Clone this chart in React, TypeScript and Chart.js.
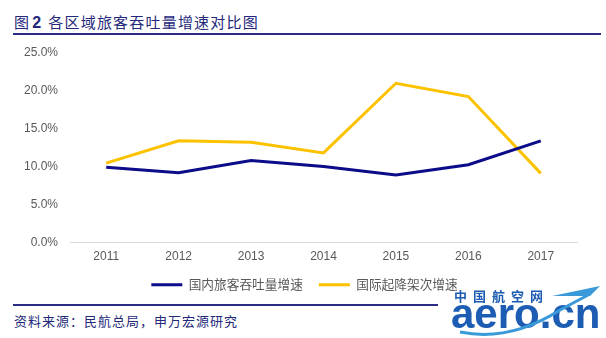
import React, { useEffect, useRef } from "react";
import { Chart, registerables } from "chart.js";

Chart.register(...registerables);

const years = ["2011", "2012", "2013", "2014", "2015", "2016", "2017"];
const domesticPassengerGrowth = [9.9, 9.2, 10.8, 10.0, 8.9, 10.25, 13.4];
const intlMovementGrowth = [10.45, 13.4, 13.2, 11.8, 21.0, 19.25, 9.1];
const seriesNames = ["国内旅客吞吐量增速", "国际起降架次增速"];
const yMin = 0;
const yMax = 25;
const yStep = 5;

const titleLabel = "图";
const titleNum = "2";
const titleText = "各区域旅客吞吐量增速对比图";
const sourceText = "资料来源：民航总局，申万宏源研究";

const legendShift = {
  id: "legendShift",
  afterLayout(chart: any) {
    const lg = chart.legend;
    if (lg) {
      lg.left += 16;
      lg.right += 16;
    }
  },
};

export default function App() {
  const canvasRef = useRef<HTMLCanvasElement | null>(null);

  useEffect(() => {
    if (!canvasRef.current) return;
    const chart = new Chart(canvasRef.current, {
      type: "line",
      data: {
        labels: years,
        datasets: [
          {
            label: seriesNames[0],
            data: domesticPassengerGrowth,
            borderColor: "#0c0c8a",
            backgroundColor: "#0c0c8a",
            borderWidth: 3,
            pointRadius: 0,
            tension: 0,
            pointStyle: "line",
          },
          {
            label: seriesNames[1],
            data: intlMovementGrowth,
            borderColor: "#fcc200",
            backgroundColor: "#fcc200",
            borderWidth: 3,
            pointRadius: 0,
            tension: 0,
            pointStyle: "line",
          },
        ],
      },
      plugins: [legendShift],
      options: {
        responsive: false,
        animation: false,
        maintainAspectRatio: false,
        layout: { padding: { left: 0, right: 29, top: 13, bottom: 0 } },
        plugins: {
          tooltip: { enabled: false },
          legend: {
            position: "bottom",
            labels: {
              usePointStyle: true,
              pointStyleWidth: 31,
              padding: 16,
              color: "#595959",
              font: { family: "'Noto Sans CJK SC', sans-serif", size: 12.7 },
            },
          },
        },
        scales: {
          x: {
            offset: true,
            grid: { display: false, drawTicks: false },
            border: { display: true, color: "#d9d9d9", width: 1 },
            ticks: {
              padding: 7,
              color: "#595959",
              font: { family: "'Liberation Sans', Arial, sans-serif", size: 12 },
            },
            afterFit: (scale: any) => {
              scale.height = 20;
              scale.paddingLeft = 0;
              scale.paddingRight = 0;
            },
          },
          y: {
            min: yMin,
            max: yMax,
            grid: { display: false, drawTicks: false },
            border: { display: false },
            ticks: {
              stepSize: yStep,
              padding: 12,
              color: "#595959",
              font: { family: "'Liberation Sans', Arial, sans-serif", size: 12 },
              callback: (v: any) => Number(v).toFixed(1) + "%",
            },
            afterFit: (scale: any) => {
              scale.width = 70;
              scale.paddingTop = 0;
              scale.paddingBottom = 0;
            },
          },
        },
      },
    });
    return () => chart.destroy();
  }, []);

  const navy = "#24287a";
  const cjk = "'Noto Sans CJK SC', sans-serif";

  return (
    <div
      style={{
        position: "fixed",
        left: 0,
        top: 0,
        width: 606,
        height: 338,
        background: "#ffffff",
        overflow: "hidden",
      }}
    >
      <div
        style={{
          position: "absolute",
          left: 14,
          top: 12,
          color: navy,
          fontFamily: cjk,
          fontSize: 15,
          lineHeight: "20px",
          letterSpacing: 1.2,
          whiteSpace: "nowrap",
        }}
      >
        {titleLabel}
        <span style={{ fontFamily: "'Liberation Sans', Arial, sans-serif", fontWeight: 700, fontSize: 16, margin: "0 6px 0 2px" }}>
          {titleNum}
        </span>
        {titleText}
      </div>
      <div style={{ position: "absolute", left: 13, top: 33, width: 588, height: 2, background: "#2b2c86" }} />

      <canvas
        ref={canvasRef}
        width={606}
        height={261}
        style={{ position: "absolute", left: 0, top: 40, width: 606, height: 261 }}
      />

      <div style={{ position: "absolute", left: 13, top: 304, width: 425, height: 2, background: "#2b2c86" }} />
      <div
        style={{
          position: "absolute",
          left: 14,
          top: 312,
          color: navy,
          fontFamily: cjk,
          fontSize: 13,
          lineHeight: "18px",
          letterSpacing: 1,
          whiteSpace: "nowrap",
        }}
      >
        {sourceText}
      </div>

      <div
        style={{
          position: "absolute",
          left: 454,
          top: 288,
          color: "#1d5cb3",
          fontFamily: cjk,
          fontWeight: 700,
          fontSize: 13,
          lineHeight: "16px",
          letterSpacing: 6,
          whiteSpace: "nowrap",
        }}
      >
        中国航空网
      </div>
      <div
        style={{
          position: "absolute",
          left: 451,
          top: 292,
          color: "#1d5cb3",
          fontFamily: "'Liberation Sans', Arial, sans-serif",
          fontWeight: 700,
          fontSize: 42,
          lineHeight: "44px",
          letterSpacing: 0,
          whiteSpace: "nowrap",
        }}
      >
        aero.cn
      </div>
      <svg style={{ position: "absolute", left: 440, top: 280, width: 166, height: 58 }} viewBox="0 0 166 58">
        <path d="M20 52 Q70 62 120 30 L150 14" stroke="#3a9ad9" strokeWidth={3} fill="none" />
        <path d="M112 16 L160 6 L150 16 Z" fill="#3a9ad9" />
      </svg>
    </div>
  );
}
